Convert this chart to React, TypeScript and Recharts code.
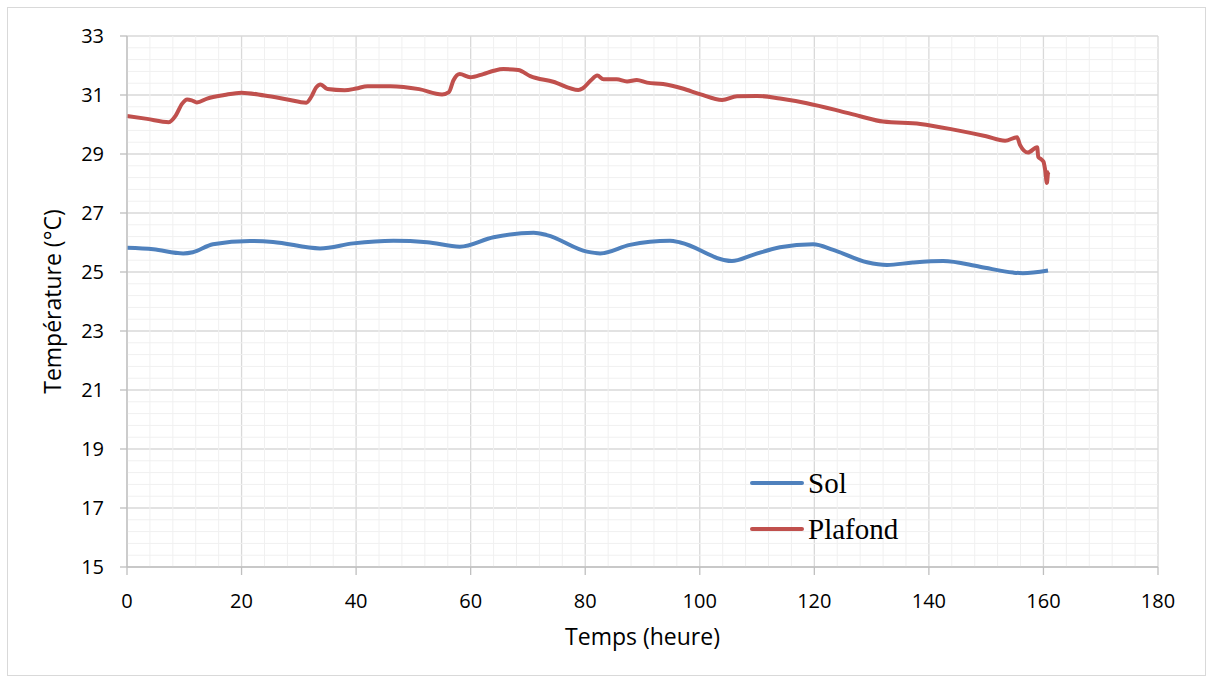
import { LineChart, Line, XAxis, YAxis, CartesianGrid, ReferenceLine, Legend } from 'recharts'

const solHours = [0, 4.6, 9.8, 11.5, 15, 21.5, 25.5, 33.7, 39.5, 46.5, 52.4, 58.1, 64, 71, 73.3, 80.3, 82.6, 87.8, 94.8, 96.6, 105.6, 109.3, 114, 119.8, 123.3, 129.2, 132.7, 137.2, 142.5, 148.9, 154.7, 156.4, 160.8]
const solTemp = [25.82, 25.77, 25.63, 25.67, 25.94, 26.05, 26.02, 25.8, 25.97, 26.06, 26.01, 25.86, 26.18, 26.33, 26.25, 25.69, 25.63, 25.92, 26.06, 26.0, 25.37, 25.58, 25.84, 25.94, 25.75, 25.33, 25.24, 25.32, 25.37, 25.18, 24.98, 24.96, 25.05]

const plafondHours = [0, 3.5, 7.3, 8.5, 9.6, 10.5, 11.3, 12.2, 14, 17, 20, 24, 28, 31.3, 32.2, 33, 33.8, 35, 38, 40, 42, 46, 51, 55, 56.2, 57, 58.1, 59.9, 62.2, 64, 65.7, 68.3, 70.4, 74.4, 78.8, 79.6, 81, 82.1, 83.2, 85.5, 87.3, 89, 90.8, 93.6, 97, 100, 103.9, 106.5, 110, 114, 118.7, 124, 128, 132, 138.5, 145, 150, 153.3, 155.4, 155.9, 157.3, 158.9, 159.1, 159.6, 160, 160.3, 160.6, 160.8, 161]
const plafondTemp = [30.29, 30.19, 30.08, 30.3, 30.7, 30.85, 30.82, 30.75, 30.88, 31.0, 31.08, 30.98, 30.85, 30.74, 30.95, 31.25, 31.36, 31.2, 31.16, 31.22, 31.3, 31.3, 31.2, 31.02, 31.1, 31.5, 31.71, 31.6, 31.71, 31.82, 31.88, 31.85, 31.64, 31.45, 31.17, 31.23, 31.5, 31.66, 31.53, 31.53, 31.46, 31.51, 31.42, 31.37, 31.22, 31.03, 30.83, 30.96, 30.97, 30.88, 30.72, 30.48, 30.28, 30.1, 30.02, 29.8, 29.6, 29.45, 29.57, 29.31, 29.05, 29.23, 28.9, 28.82, 28.74, 28.46, 28.02, 28.35, 28.4]

const xTicks = [0, 20, 40, 60, 80, 100, 120, 140, 160, 180]
const yTicks = [15, 17, 19, 21, 23, 25, 27, 29, 31, 33]
const seriesOrder = ['Sol', 'Plafond']

const solData = solHours.map((h, i) => ({ h, t: solTemp[i] }))
const plafondData = plafondHours.map((h, i) => ({ h, t: plafondTemp[i] }))

// minor grid: 5 subdivisions between major ticks
const minorX: number[] = []
for (let i = 0; i < xTicks.length - 1; i++) for (let k = 1; k < 5; k++) minorX.push(xTicks[i] + k * 4)
const minorY: number[] = []
for (let i = 0; i < yTicks.length - 1; i++) for (let k = 1; k < 5; k++) minorY.push(+(yTicks[i] + k * 0.4).toFixed(1))

const tickFont = { fontFamily: 'Open Sans', fontSize: 20, fill: '#000' }
const titleFont = { fontFamily: 'Open Sans', fontSize: 23, fill: '#000' }

function LegendBox({ payload }: { payload?: Array<{ value: string; color: string }> }) {
  const items = [...(payload ?? [])].sort((a, b) => seriesOrder.indexOf(a.value) - seriesOrder.indexOf(b.value))
  return (
    <div style={{ fontFamily: 'Liberation Serif, Times New Roman, serif', fontSize: 29, lineHeight: 1 }}>
      {items.map((p) => (
        <div key={p.value} style={{ display: 'flex', alignItems: 'center', height: 46 }}>
          <span style={{ display: 'inline-block', width: 54, height: 4, background: p.color, borderRadius: 2, marginRight: 4 }} />
          <span>{p.value}</span>
        </div>
      ))}
    </div>
  )
}

export default function App() {
  return (
    <div style={{ position: 'absolute', left: 0, top: 0, width: 1212, height: 680, background: '#fff' }}>
      <div style={{ position: 'absolute', left: 7, top: 7, width: 1197, height: 667, border: '1px solid #d9d9d9' }} />
      <div style={{ position: 'absolute', left: 0, top: 0 }}>
        <LineChart width={1212} height={680} margin={{ top: 36, right: 54, left: 0, bottom: 13 }}>
          {minorX.map((v) => (
            <ReferenceLine key={'mx' + v} x={v} stroke="#f0f0f0" strokeWidth={1} />
          ))}
          {minorY.map((v) => (
            <ReferenceLine key={'my' + v} y={v} stroke="#f0f0f0" strokeWidth={1} />
          ))}
          <CartesianGrid stroke="#d9d9d9" strokeWidth={1.3} />
          <XAxis
            type="number"
            dataKey="h"
            domain={[0, 180]}
            ticks={xTicks}
            allowDuplicatedCategory={false}
            height={100}
            tickSize={8}
            tickMargin={19}
            stroke="#bfbfbf"
            strokeWidth={1.3}
            tick={tickFont}
            label={{ value: 'Temps (heure)', position: 'insideBottom', offset: 22, style: titleFont }}
          />
          <YAxis
            type="number"
            domain={[15, 33]}
            ticks={yTicks}
            width={127}
            tickSize={7}
            tickMargin={16}
            stroke="#bfbfbf"
            strokeWidth={1.3}
            tick={tickFont}
            label={{ value: 'Température (°C)', angle: -90, position: 'center', dx: -11, style: { ...titleFont, textAnchor: 'middle' } }}
          />
          <Legend
            layout="vertical"
            verticalAlign="middle"
            align="center"
            wrapperStyle={{ left: 750, top: 460, width: 220 }}
            content={(props: any) => <LegendBox payload={props.payload} />}
          />
          <Line data={solData} dataKey="t" name="Sol" type="monotone" stroke="#4F81BD" strokeWidth={4} dot={false} isAnimationActive={false} />
          <Line data={plafondData} dataKey="t" name="Plafond" type="monotone" stroke="#C0504D" strokeWidth={4} dot={false} isAnimationActive={false} />
        </LineChart>
      </div>
    </div>
  )
}
